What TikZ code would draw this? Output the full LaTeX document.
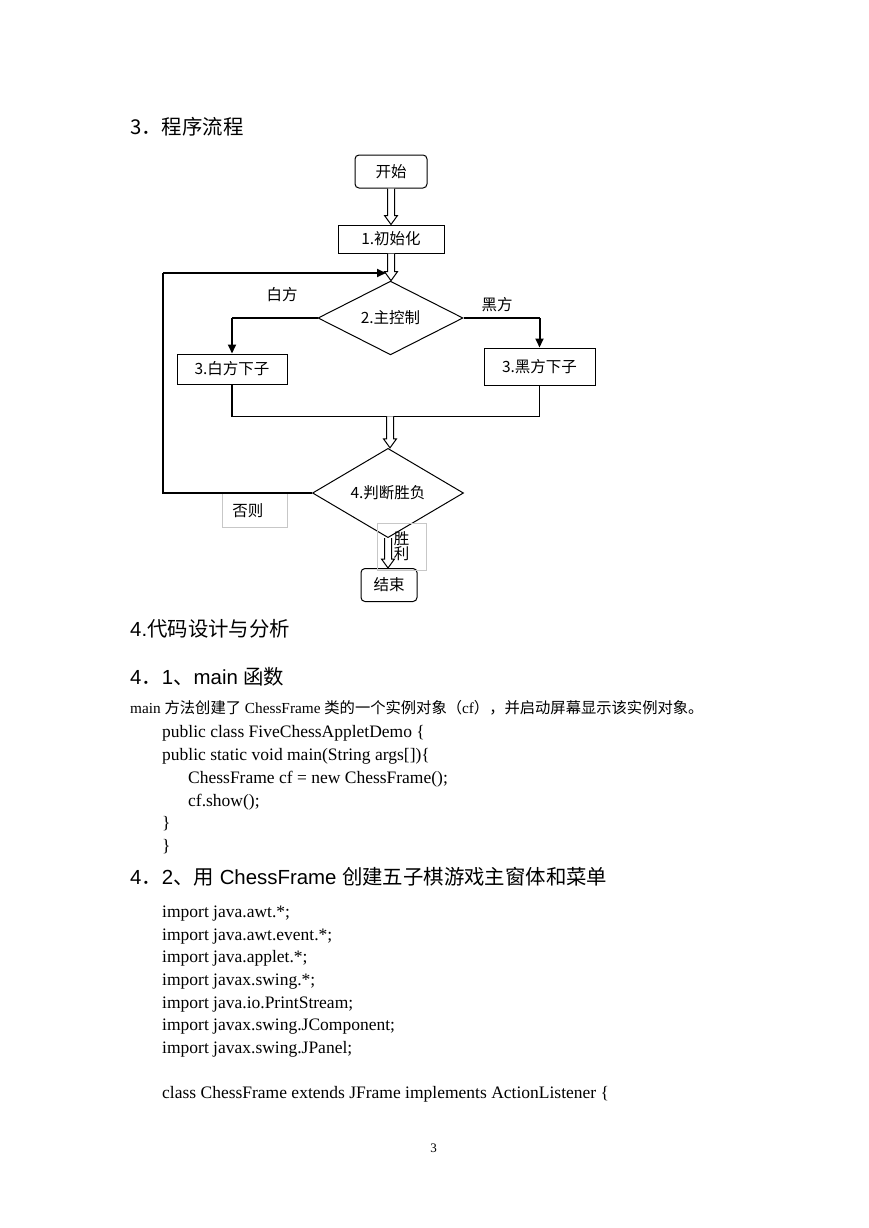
\documentclass[tikz,border=0pt]{standalone}
\usepackage{fontspec}
\setmainfont{Liberation Serif}
\newfontfamily\cjk{Noto Sans CJK SC}
\newfontfamily\arial{Liberation Sans}
\usetikzlibrary{arrows.meta,calc,positioning,shapes.geometric}

% hollow block arrow, straight down from #1 to the level of #2
\newcommand{\hollowarrow}[2]{%
  \draw[hollow] ($(#1)+(-3.5,0)$) -- ($(#1 |- #2)+(-3.5,-9)$) -- ++(-3,0)
    -- (#1 |- #2) -- ++(6.5,-9) -- ++(-3,0) -- ($(#1)+(3.5,0)$);}

\tikzset{
  box/.style={draw, line width=1, inner sep=2, font=\cjk\fontsize{15.5}{17}\selectfont},
  roundbox/.style={box, rounded corners=4},
  choice/.style={draw, diamond, line width=1, inner sep=0, font=\cjk\fontsize{15.5}{17}\selectfont},
  flowtext/.style={inner sep=0, font=\cjk\fontsize{15.5}{17}\selectfont},
  graybox/.style={draw=black!22, line width=0.9, inner sep=0, font=\cjk\fontsize{15.5}{15}\selectfont},
  hollow/.style={line width=1, fill=white},
  link/.style={line width=1.1},
  heavy/.style={line width=2, -{Triangle[length=9,width=8]}},
  heading/.style={anchor=base west, inner sep=0, font=\arial\fontsize{20.4}{24}\selectfont},
  intro/.style={anchor=base west, inner sep=0, font=\fontsize{15.3}{18}\selectfont},
  code/.style={anchor=base west, inner sep=0, font=\fontsize{17.5}{21}\selectfont},
}

\begin{document}
\begin{tikzpicture}[x=1pt, y=-1pt]
\fill[white] (0,0) rectangle (869,1228);
\useasboundingbox (0,0) rectangle (869,1228);

% section title
\node[heading, font=\cjk\fontsize{20.4}{24}\selectfont] (sec3) at (130,135) {3．程序流程};

% flow chart
\node[roundbox, minimum width=72, minimum height=33] (start) at (391,171.5) {开始};
\node[box, minimum width=106, minimum height=28] (init) at (391,239) {1.初始化};
\node[choice, minimum width=145, minimum height=70] (ctrl) at (390.5,318) {2.主控制};
\node[box, minimum width=110, minimum height=30] (white) at (232,369) {3.白方下子};
\node[box, minimum width=111, minimum height=37] (black) at (539.5,366.5) {3.黑方下子};
\coordinate (bar) at (390,416.3);
\node[choice, minimum width=151, minimum height=60] (judge) at (388,493) {4.判断胜负};
\node[roundbox, minimum width=56, minimum height=33] (stop) at (389,585) {结束};
\coordinate (loop) at (163,273);
\coordinate (back) at (386,273);

\node[flowtext] (lwhite) at (282,295) {白方};
\node[flowtext] (lblack) at (497,305) {黑方};
\node[graybox, anchor=north west, minimum width=65, minimum height=34, text width=45, inner xsep=10, align=left] (else) at (222,493) {否则};
\node[graybox, minimum width=49, minimum height=47, align=center] (win) at (401.5,546.5) {胜\\利};

\hollowarrow{start.south}{init.north}
\hollowarrow{init.south}{ctrl.north}
\draw[link] (ctrl.west) -- (white.north |- ctrl.west);
\draw[heavy] (white.north |- ctrl.west) -- (white.north);
\draw[link] (ctrl.east) -- (black.north |- ctrl.east);
\draw[heavy] (black.north |- ctrl.east) -- (black.north);
\draw[link] (white.south) |- (bar);
\draw[link] (black.south) |- (bar);
\hollowarrow{bar}{judge.north}
\draw[link] (judge.west) -| (loop);
\draw[heavy] (loop) -- (back);
\hollowarrow{judge.south}{stop.north}

% text below the chart
\node[heading] (sec4) at (130,636) {4.{\cjk 代码设计与分析}};
\node[heading] (sec41) at (130,684) {4{\cjk ．}1{\cjk 、}main {\cjk 函数}};
\node[intro] (about) at (130,713) {main {\cjk 方法创建了} ChessFrame {\cjk 类的一个实例对象（}cf{\cjk ），并启动屏幕显示该实例对象。}};

\node[code] (l1) at (162,737) {public class FiveChessAppletDemo \{};
\node[code] (l2) at (162,760) {public static void main(String args[])\{};
\node[code] (l3) at (188,783) {ChessFrame cf = new ChessFrame();};
\node[code] (l4) at (188,806) {cf.show();};
\node[code] (l5) at (162,828) {\}};
\node[code] (l6) at (162,851) {\}};

\node[heading] (sec42) at (130,884) {4{\cjk ．}2{\cjk 、用} ChessFrame {\cjk 创建五子棋游戏主窗体和菜单}};

\node[code] (i1) at (162,917) {import java.awt.*;};
\node[code] (i2) at (162,940) {import java.awt.event.*;};
\node[code] (i3) at (162,962) {import java.applet.*;};
\node[code] (i4) at (162,985) {import javax.swing.*;};
\node[code] (i5) at (162,1008) {import java.io.PrintStream;};
\node[code] (i6) at (162,1030) {import javax.swing.JComponent;};
\node[code] (i7) at (162,1053) {import javax.swing.JPanel;};
\node[code] (i8) at (162,1098) {class ChessFrame extends JFrame implements ActionListener \{};

\node[anchor=base, inner sep=0, font=\fontsize{13}{15}\selectfont] (page) at (433.5,1152) {3};
\end{tikzpicture}
\end{document}
